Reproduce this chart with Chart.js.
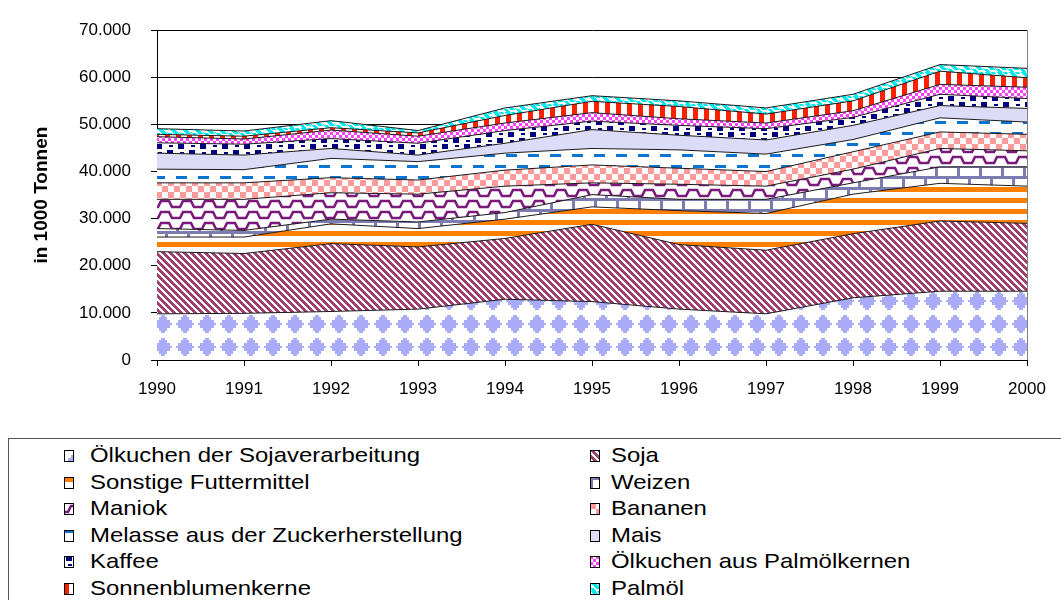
<!DOCTYPE html>
<html>
<head>
<meta charset="utf-8">
<script src="https://cdn.jsdelivr.net/npm/chart.js@4.4.1/dist/chart.umd.min.js"></script>
<style>
  body { margin: 0; background: #fff; width: 1061px; height: 600px; overflow: hidden; position: relative; }
  #chart { position: absolute; left: 0; top: 0; }
  #legend {
    position: absolute; left: 8px; top: 438px; width: 1100px; height: 200px;
    border: 1px solid #555; box-sizing: border-box;
  }
  .item { position: absolute; height: 26px; white-space: nowrap; }
  .item canvas { position: absolute; top: 7px; }
  .item span {
    position: absolute; top: 0px; font: 21px Arial, "Liberation Sans", sans-serif; color: #000;
    transform: scaleX(1.14); transform-origin: left center;
  }
</style>
</head>
<body>
<canvas id="chart" width="1061" height="430"></canvas>
<div id="legend"></div>
<script>
// Importe in 1000 Tonnen, Jahre 1990–2000
const YEARS = ["1990", "1991", "1992", "1993", "1994", "1995", "1996", "1997", "1998", "1999", "2000"];
const Y_TICK_LABELS = ["0", "10.000", "20.000", "30.000", "40.000", "50.000", "60.000", "70.000"];

const SOJASCHROT   = [9800, 9900, 10300, 10800, 12900, 12400, 10800, 9800, 13200, 14600, 14600];
const SOJA         = [13200, 12700, 14400, 13200, 12900, 16400, 13700, 13500, 13600, 14900, 14400];
const SONSTIGE     = [3100, 3500, 4200, 3900, 4100, 3700, 7200, 7800, 8400, 8000, 7900];
const WEIZEN       = [1800, 1400, 1000, 1400, 1400, 2600, 2400, 3000, 2400, 3500, 4100];
const MANIOK       = [6200, 6600, 5600, 5900, 5600, 2500, 3200, 2800, 2900, 3900, 3400];
const BANANEN      = [3500, 3500, 3200, 3000, 3400, 3800, 3400, 3100, 3700, 3500, 3500];
const MELASSE      = [2900, 2800, 4100, 3900, 3600, 3500, 3900, 3700, 2600, 3000, 2600];
const MAIS         = [3400, 3100, 2100, 1400, 2100, 4000, 3100, 3000, 3000, 2600, 2900];
const KAFFEE       = [2200, 2300, 2100, 2500, 2700, 1800, 2100, 2400, 1700, 2400, 2100];
const PALMKERN     = [1300, 1100, 1800, 1500, 1600, 1800, 1400, 1200, 1400, 2100, 2400];
const SONNENBLUMEN = [500, 600, 500, 700, 1600, 2400, 2600, 1900, 2100, 2800, 2000];
const PALMOEL      = [1200, 1100, 1500, 500, 1600, 1200, 1200, 1300, 1400, 1400, 2000];

const FONT = 'Arial, "Liberation Sans", sans-serif';

// kleine Kacheln für die Excel-Musterfüllungen
function tile(w, h, draw) {
  const c = document.createElement("canvas");
  c.width = w;
  c.height = h;
  const g = c.getContext("2d");
  g.fillStyle = "#fff";
  g.fillRect(0, 0, w, h);
  draw(g, w, h);
  return c;
}

const TILES = {
  sojaschrot: tile(22, 23, (g) => {
    g.fillStyle = "#a9aaf8";
    g.fillRect(9, 3, 4, 2);
    g.fillRect(7, 5, 8, 3);
    g.fillRect(4, 8, 14, 3);
    g.fillRect(2, 11, 18, 2);
    g.fillRect(4, 13, 14, 3);
    g.fillRect(7, 16, 8, 3);
    g.fillRect(9, 19, 4, 2);
  }),
  soja: tile(7, 7, (g) => {
    g.fillStyle = "#a0406e";
    for (let y = 0; y < 7; y++)
      for (let x = 0; x < 7; x++)
        if ((x - y + 14) % 7 < 4) g.fillRect(x, y, 1, 1);
  }),
  sonstige: tile(4, 11, (g) => {
    g.fillStyle = "#ff8000";
    g.fillRect(0, 0, 4, 5);
  }),
  weizen: tile(22, 22, (g) => {
    g.fillStyle = "#7c7cb0";
    g.fillRect(0, 0, 22, 3);
    g.fillRect(0, 11, 22, 3);
    g.fillRect(0, 3, 3, 8);
    g.fillRect(11, 14, 3, 8);
  }),
  maniok: tile(22, 11, (g) => {
    g.strokeStyle = "#7a1a7a";
    g.lineWidth = 2.6;
    g.beginPath();
    g.moveTo(-1, 9);
    g.lineTo(4, 9);
    g.lineTo(7, 3);
    g.lineTo(15, 3);
    g.lineTo(18, 9);
    g.lineTo(23, 9);
    g.stroke();
  }),
  bananen: tile(12, 12, (g) => {
    g.fillStyle = "#ff9a9a";
    g.fillRect(0, 0, 6, 6);
    g.fillRect(6, 6, 6, 6);
  }),
  melasse: tile(22, 22, (g) => {
    g.fillStyle = "#0b74d0";
    g.fillRect(0, 0, 11, 3);
    g.fillRect(11, 11, 11, 3);
  }),
  mais: tile(4, 4, (g) => {
    g.fillStyle = "#dcdcf8";
    g.fillRect(0, 0, 4, 4);
  }),
  kaffee: tile(22, 12, (g) => {
    g.fillStyle = "#000080";
    g.fillRect(2, 0, 6, 5);
    g.fillRect(13, 6, 6, 5);
    g.fillRect(15, 1, 4, 2);
    g.fillRect(4, 8, 4, 2);
  }),
  palmkern: tile(6, 6, (g) => {
    g.fillStyle = "#ff40ff";
    g.fillRect(0, 0, 3, 3);
    g.fillRect(3, 3, 3, 3);
  }),
  sonnenblumen: tile(11, 4, (g) => {
    g.fillStyle = "#ff2000";
    g.fillRect(0, 0, 5, 4);
  }),
  palmoel: tile(12, 8, (g) => {
    g.fillStyle = "#00e8f0";
    for (let y = 0; y < 6; y++) g.fillRect(y + 1, y, 5, 1);
    for (let y = 0; y < 8; y++) if (y >= 4 || y < 2) g.fillRect((y + 7) % 12, y, 4, 1);
  }),
};

const SERIES = [
  { label: "Ölkuchen der Sojaverarbeitung", data: SOJASCHROT, tile: "sojaschrot" },
  { label: "Soja", data: SOJA, tile: "soja" },
  { label: "Sonstige Futtermittel", data: SONSTIGE, tile: "sonstige" },
  { label: "Weizen", data: WEIZEN, tile: "weizen" },
  { label: "Maniok", data: MANIOK, tile: "maniok" },
  { label: "Bananen", data: BANANEN, tile: "bananen" },
  { label: "Melasse aus der Zuckerherstellung", data: MELASSE, tile: "melasse" },
  { label: "Mais", data: MAIS, tile: "mais" },
  { label: "Kaffee", data: KAFFEE, tile: "kaffee" },
  { label: "Ölkuchen aus Palmölkernen", data: PALMKERN, tile: "palmkern" },
  { label: "Sonnenblumenkerne", data: SONNENBLUMEN, tile: "sonnenblumen" },
  { label: "Palmöl", data: PALMOEL, tile: "palmoel" },
];

function makePattern(ctx, name) {
  const p = ctx.createPattern(TILES[name], "repeat");
  // Rauten wie im Original auf zwei Reihen unter der 10.000er-Linie legen
  if (name === "sojaschrot") p.setTransform(new DOMMatrix().translate(-2, 13));
  return p;
}

function initChart() {
  const canvas = document.getElementById("chart");
  const ctx = canvas.getContext("2d");

  Chart.defaults.font.family = FONT;
  Chart.defaults.font.size = 16;
  Chart.defaults.color = "#000";

  return new Chart(ctx, {
    type: "line",
    data: {
      labels: YEARS,
      datasets: SERIES.map((s, i) => ({
        label: s.label,
        data: s.data,
        backgroundColor: makePattern(ctx, s.tile),
        borderColor: "#1a1a1a",
        borderWidth: 1,
        pointRadius: 0,
        tension: 0,
        fill: i === 0 ? "origin" : "-1",
      })),
    },
    options: {
      responsive: false,
      animation: false,
      layout: { padding: { left: 0, top: 25, right: 34, bottom: 0 } },
      plugins: { legend: { display: false }, tooltip: { enabled: false } },
      scales: {
        x: {
          type: "category",
          offset: false,
          border: { color: "#000", width: 1 },
          grid: {
            offset: false,
            tickLength: 6,
            tickColor: "#000",
            color: (c) => (c.index === YEARS.length - 1 ? "#808080" : "rgba(0,0,0,0)"),
          },
          ticks: { padding: 13, maxRotation: 0, autoSkip: false, font: { size: 17 } },
          afterFit: (scale) => { scale.height = 70; },
        },
        y: {
          stacked: true,
          min: 0,
          max: 70000,
          border: { color: "#000", width: 1 },
          grid: { color: "#000", tickLength: 6, tickColor: "#000" },
          ticks: {
            stepSize: 10000,
            padding: 20,
            font: { size: 17 },
            callback: (v) => Y_TICK_LABELS[Math.round(v / 10000)],
          },
          title: {
            display: true,
            text: "in 1000 Tonnen",
            font: { size: 19, weight: "bold" },
            padding: { top: 30, bottom: 0 },
          },
          afterFit: (scale) => { scale.width = 157; },
        },
      },
    },
  });
}

function renderLegend(chart) {
  const box = document.getElementById("legend");
  chart.data.datasets.forEach((ds, i) => {
    const row = Math.floor(i / 2);
    const col = i % 2;
    const item = document.createElement("div");
    item.className = "item";
    item.style.left = (col === 0 ? 55 : 581) + "px";
    item.style.top = (4 + row * 26.6) + "px";

    const icon = document.createElement("canvas");
    icon.width = 10;
    icon.height = 12;
    const g = icon.getContext("2d");
    g.fillStyle = g.createPattern(TILES[SERIES[i].tile], "repeat");
    g.fillRect(0, 0, 10, 12);
    g.strokeStyle = "#000";
    g.lineWidth = 1;
    g.strokeRect(0.5, 0.5, 9, 11);
    icon.style.left = "0px";

    const text = document.createElement("span");
    text.textContent = ds.label;
    text.style.left = (col === 0 ? 26 : 21) + "px";

    item.appendChild(icon);
    item.appendChild(text);
    box.appendChild(item);
  });
}

document.addEventListener("DOMContentLoaded", () => {
  const chart = initChart();
  renderLegend(chart);
});
</script>
</body>
</html>
